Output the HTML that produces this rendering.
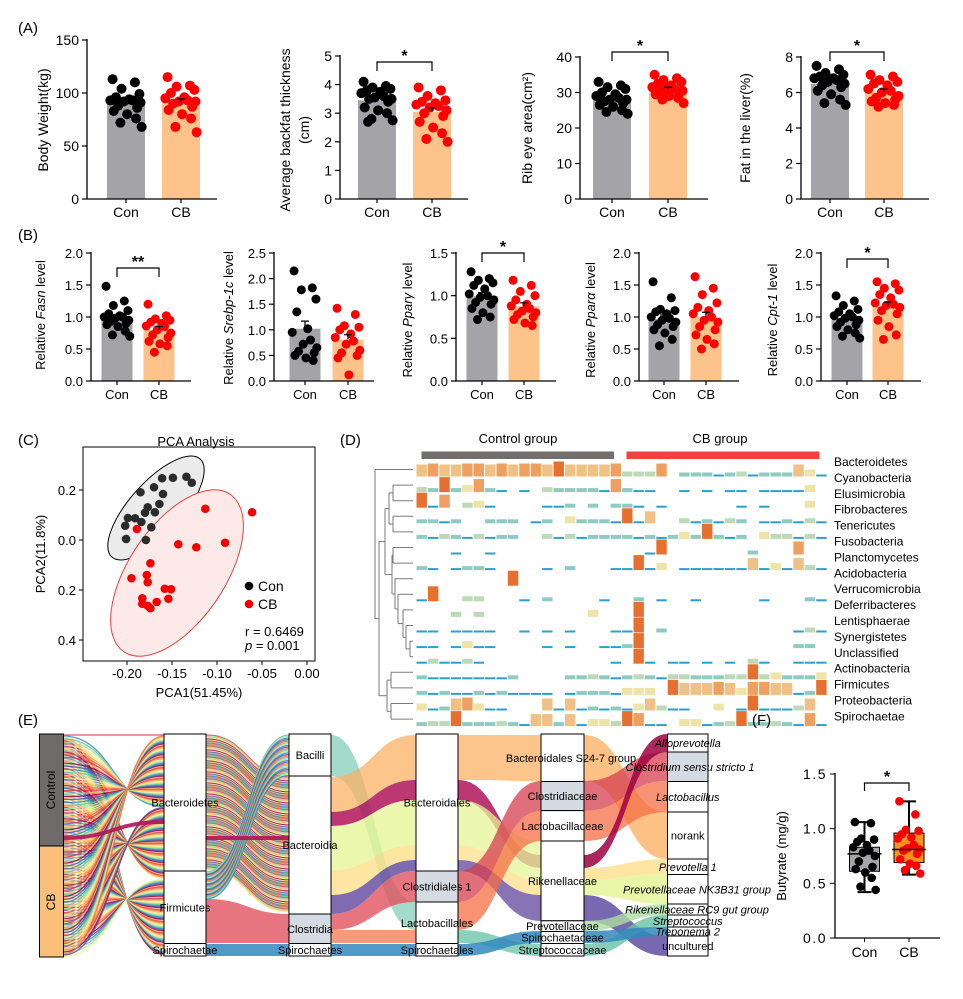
<!DOCTYPE html>
<html><head><meta charset="utf-8"><style>
body{margin:0;background:#fff}
svg{display:block;font-family:"Liberation Sans",Arial,sans-serif}
</style></head><body>
<svg id="fig" width="963" height="999" viewBox="0 0 963 999" xmlns="http://www.w3.org/2000/svg">
<g id="gA"></g>
<g id="gB"></g>
<g id="gC"></g>
<g id="gD"></g>
<g id="gE"></g>
<g id="gF"></g>
</svg>
<script>
// ---------- DATA ----------
const groups = ["Con","CB"];
const bwCon = [113,110,104,99,96,94,93,93,92,91,88,86,83,80,76,72,68];
const bwCB  = [115,107,106,103,100,96,95,93,92,92,90,87,84,80,76,68,63];
const bfCon = [4.1,3.95,3.9,3.85,3.8,3.75,3.7,3.6,3.55,3.5,3.5,3.4,3.2,3.1,3.0,2.8,2.75,2.7];
const bfCB  = [3.9,3.8,3.6,3.45,3.4,3.35,3.3,3.25,3.2,3.1,3.0,2.9,2.7,2.5,2.3,2.1,2.0];
const reCon = [33,32,31.5,31,30,29.5,29,28.5,28,28,27.5,27,26.5,26,25,24.5,24];
const reCB  = [35,34,33.5,33,32.5,32,31.5,31,31,30.5,30,30,29.5,29,28.5,28,27];
const lfCon = [7.5,7.3,7.1,7.0,6.9,6.8,6.8,6.7,6.6,6.5,6.4,6.3,6.1,5.9,5.6,5.4,5.3];
const lfCB  = [7.0,6.9,6.7,6.6,6.5,6.4,6.2,6.1,6.0,5.8,5.7,5.6,5.5,5.4,5.3,5.2];
const fasnCon = [1.48,1.25,1.18,1.1,1.05,1.02,1.0,1.0,0.98,0.95,0.93,0.9,0.88,0.85,0.78,0.72,0.7];
const fasnCB  = [1.2,1.02,0.97,0.95,0.92,0.9,0.86,0.85,0.8,0.75,0.72,0.68,0.62,0.58,0.55,0.45];
const srebCon = [2.15,1.82,1.78,1.6,1.35,1.02,0.95,0.8,0.72,0.65,0.58,0.55,0.5,0.45,0.4];
const srebCB  = [1.42,1.3,1.08,1.05,1.0,0.92,0.85,0.78,0.72,0.6,0.55,0.5,0.45,0.12];
const ppgCon  = [1.28,1.2,1.18,1.15,1.12,1.08,1.02,1.0,0.98,0.95,0.92,0.9,0.85,0.8,0.75,0.72];
const ppgCB   = [1.18,1.12,1.05,1.0,0.95,0.9,0.88,0.85,0.82,0.8,0.78,0.75,0.72,0.68,0.65];
const ppaCon  = [1.55,1.3,1.12,1.1,1.08,1.05,1.0,0.98,0.95,0.92,0.88,0.85,0.8,0.75,0.65,0.55];
const ppaCB   = [1.63,1.45,1.35,1.22,1.15,1.1,1.05,1.0,0.95,0.92,0.85,0.8,0.72,0.65,0.58,0.5];
const cptCon  = [1.33,1.25,1.18,1.12,1.08,1.05,1.02,1.0,0.98,0.95,0.92,0.88,0.85,0.8,0.75,0.7,0.67];
const cptCB   = [1.55,1.52,1.45,1.42,1.35,1.3,1.22,1.2,1.18,1.15,1.1,1.05,0.95,0.85,0.72,0.65];
const ticks2 = ["0.0","0.5","1.0","1.5","2.0"], ticks25=["0.0","0.5","1.0","1.5","2.0","2.5"], ticks15=["0.0","0.5","1.0","1.5"];
const pcaConX = [-0.185,-0.170,-0.161,-0.149,-0.134,-0.128,-0.160,-0.177,-0.180,-0.169,-0.164,-0.199,-0.191,-0.184,-0.202,-0.173,-0.201,-0.179];
const pcaConY = [0.191,0.211,0.247,0.249,0.253,0.229,0.184,0.131,0.109,0.111,0.144,0.088,0.087,0.072,0.057,0.051,0.004,0.000];
const pcaCBX  = [-0.189,-0.113,-0.061,-0.143,-0.123,-0.091,-0.174,-0.195,-0.178,-0.177,-0.158,-0.151,-0.183,-0.183,-0.177,-0.174,-0.167,-0.154];
const pcaCBY  = [0.044,0.125,0.111,-0.017,-0.029,-0.011,-0.093,-0.153,-0.14,-0.169,-0.195,-0.197,-0.233,-0.255,-0.263,-0.273,-0.248,-0.235];
const pcaXTicks = [-0.20,-0.15,-0.10,-0.05,0.00];
const pcaXLabels = ["-0.20","-0.15","-0.10","-0.05","0.00"];
const pcaYTicks = [0.2,0.0,-0.2,-0.4];
const pcaYLabels = ["0.2","0.0","0.2","0.4"];
const phyla = ["Bacteroidetes","Cyanobacteria","Elusimicrobia","Fibrobacteres","Tenericutes","Fusobacteria","Planctomycetes","Acidobacteria","Verrucomicrobia","Deferribacteres","Lentisphaerae","Synergistetes","Unclassified","Actinobacteria","Firmicutes","Proteobacteria","Spirochaetae"];
const hmBacteroidetes = [5,6,5,5,6,6,5,6,5,6,6,5,7,5,5,5,5,6,3,3,3,6,0,2,2,2,1,2,3,1,2,2,2,5,4,1];
const hmCyanobacteria = [3,2,7,2,4,6,2,1,0,1,0,3,2,2,2,2,1,6,2,1,1,0,0,1,0,1,0,1,1,0,1,1,1,1,4,0];
const hmElusimicrobia = [7,1,6,0,3,4,1,0,0,0,0,1,1,2,0,2,0,2,2,1,0,1,0,0,0,0,0,0,1,0,1,0,0,0,4,0];
const hmFibrobacteres = [2,2,1,2,0,0,2,2,2,0,1,2,0,4,2,2,2,1,7,1,5,0,0,3,1,2,1,3,2,0,1,1,2,1,3,1];
const hmTenericutes   = [2,1,3,2,1,3,1,2,2,0,0,3,1,3,1,2,2,2,2,1,2,1,2,4,2,7,2,1,2,0,4,3,3,1,3,1];
const hmFusobacteria  = [0,0,0,1,0,0,1,0,0,0,0,0,0,0,0,0,0,0,0,0,1,7,0,0,0,0,0,0,0,2,0,0,0,6,0,0];
const hmPlanctomycetes= [2,1,0,1,2,2,1,0,0,0,0,1,0,2,0,0,0,1,1,7,1,4,0,1,1,1,1,1,1,5,1,4,1,5,3,1];
const hmAcidobacteria = [0,0,0,0,0,0,0,0,7,0,0,0,0,0,0,0,0,0,0,0,0,0,0,0,0,0,0,0,0,0,0,0,0,0,0,0];
const hmVerrucomicrobia=[1,7,0,0,3,3,0,0,0,1,0,2,0,0,0,0,1,0,0,2,0,1,0,0,1,0,0,0,0,0,1,0,0,0,2,1];
const hmDeferribacteres=[0,0,0,3,0,3,0,0,0,0,0,0,0,0,0,4,0,0,0,7,0,0,0,0,0,0,0,0,0,0,0,0,0,0,0,0];
const hmLentisphaerae = [1,1,0,1,1,1,1,0,0,1,0,1,0,1,0,0,0,1,1,7,0,2,0,0,0,0,0,0,0,0,0,0,0,1,3,1];
const hmSynergistetes = [1,1,0,1,4,1,1,0,0,0,0,1,0,1,0,0,1,1,2,7,0,0,0,0,0,0,0,0,0,0,0,0,0,2,2,0];
const hmUnclassified  = [1,3,1,1,3,1,0,0,0,0,0,0,0,0,0,0,0,1,0,7,1,0,1,1,0,1,0,1,0,3,1,0,0,1,1,1];
const hmActinobacteria= [2,1,1,1,1,1,1,1,2,0,0,0,0,2,2,3,2,1,2,3,2,1,3,3,2,2,2,3,3,7,3,4,2,2,2,4];
const hmFirmicutes    = [2,1,2,1,1,2,1,2,1,1,1,1,0,1,2,2,2,1,4,4,4,0,7,5,5,5,6,5,4,6,6,5,5,1,2,7];
const hmProteobacteria= [4,1,2,5,6,4,1,1,0,0,0,5,1,5,1,2,1,2,1,4,5,3,1,1,0,0,4,0,1,7,1,1,1,3,5,0];
const hmSpirochaetae  = [2,3,3,7,2,2,2,3,2,1,5,5,2,5,1,4,4,3,7,6,1,1,0,4,4,1,2,3,7,2,2,3,2,1,6,1];
const heatRows = [hmBacteroidetes,hmCyanobacteria,hmElusimicrobia,hmFibrobacteres,hmTenericutes,hmFusobacteria,hmPlanctomycetes,hmAcidobacteria,hmVerrucomicrobia,hmDeferribacteres,hmLentisphaerae,hmSynergistetes,hmUnclassified,hmActinobacteria,hmFirmicutes,hmProteobacteria,hmSpirochaetae];
const butCon = [1.06,1.05,0.91,0.90,0.88,0.85,0.83,0.80,0.78,0.75,0.70,0.65,0.63,0.60,0.55,0.47,0.44];
const butCB  = [1.25,1.13,0.99,0.98,0.95,0.92,0.91,0.85,0.82,0.81,0.80,0.77,0.72,0.68,0.66,0.62,0.59];
const butBoxCon = [0.42,0.61,0.77,0.83,1.06];
const butBoxCB  = [0.58,0.69,0.81,0.96,1.25];
const butTicks = ["0.0","0.5","1.0","1.5"];

// ---------- helpers ----------
const NS="http://www.w3.org/2000/svg";
function el(parent,tag,attrs,text){const e=document.createElementNS(NS,tag);for(const k in attrs)e.setAttribute(k,attrs[k]);if(text!==undefined)e.textContent=text;parent.appendChild(e);return e;}
const jit=[-12,8,-4,12,-9,3,-14,6,-2,13,-7,10,-11,1,9,-5,14,-8];
function mean(a){return a.reduce((s,v)=>s+v,0)/a.length;}
function sem(a){const m=mean(a);return Math.sqrt(a.reduce((s,v)=>s+(v-m)*(v-m),0)/(a.length-1))/Math.sqrt(a.length);}

function barChart(g,o){
  const sc=v=>o.bottom-(v-o.min)/(o.max-o.min)*(o.bottom-o.top);
  const sets=[o.con,o.cb], xs=[o.conX,o.cbX], fills=["#a4a4a8","#fdc38a"], dots=["#000","#ff0000"];
  for(let i=0;i<2;i++){
    const m=mean(sets[i]);
    const b=el(g,"rect",{x:xs[i]-o.bw/2,y:sc(m),width:o.bw,height:o.bottom-sc(m),fill:fills[i]});
    
    
    sets[i].forEach((v,j)=>{
      const c=el(g,"circle",{cx:xs[i]+jit[j%jit.length]*o.bw/34,cy:sc(v),r:o.r,fill:dots[i]});
      
      
    });
    const s=sem(sets[i]);
    el(g,"path",{d:`M${xs[i]} ${sc(m+s)}V${sc(m)}M${xs[i]-4} ${sc(m+s)}H${xs[i]+4}`,stroke:"#000","stroke-width":1.2,fill:"none"});
  }
  el(g,"path",{d:`M${o.ax} ${o.top-1}V${o.bottom}H${o.ax+o.xw}`,stroke:"#000","stroke-width":1.3,fill:"none"});
  o.ticks.forEach((t,k)=>{
    const v=parseFloat(t), y=sc(v);
    el(g,"line",{x1:o.ax-5,x2:o.ax,y1:y,y2:y,stroke:"#000","stroke-width":1.2});
    const tl=el(g,"text",{x:o.ax-8,y:y+5,"text-anchor":"end","font-size":o.fs},t);
    
    
  });
  for(let i=0;i<2;i++){
    el(g,"line",{x1:xs[i],x2:xs[i],y1:o.bottom,y2:o.bottom+4,stroke:"#000","stroke-width":1.2});
    const tl=el(g,"text",{x:xs[i],y:o.bottom+18,"text-anchor":"middle","font-size":o.fs},groups[i]);
    
    
  }
  if(o.sig){
    el(g,"path",{d:`M${o.conX} ${o.sigY+9}V${o.sigY}H${o.cbX}V${o.sigY+9}`,stroke:"#000","stroke-width":1.2,fill:"none"});
    const st=el(g,"text",{x:(o.conX+o.cbX)/2,y:o.sigY-1,"text-anchor":"middle","font-size":16,"font-weight":"bold"},o.sig);
    
    
  }
  const lab=el(g,"text",{transform:`translate(${o.lx},${o.ly}) rotate(-90)`,"text-anchor":"middle","font-size":o.lfs});
  
  
  o.label.forEach(p=>{const ts=el(lab,"tspan",p.it?{"font-style":"italic"}:{},p.t); if(p.dy){ts.setAttribute('x',0);ts.setAttribute('dy',p.dy);}});
}
function panelLabel(g,x,y,t){const e=el(g,"text",{x:x,y:y,"font-size":15},t);}

// ---------- Panel A ----------
const gA=document.getElementById("gA");
panelLabel(gA,18,33,"(A)");
barChart(gA,{id:"body-weight",ax:87,top:40,bottom:199,min:0,max:150,ticks:["0","50","100","150"],conX:126,cbX:181,bw:38,r:5,xw:130,con:bwCon,cb:bwCB,fs:14,lx:48,ly:120,lfs:14,label:[{t:"Body Weight(kg)"}]});
barChart(gA,{id:"backfat",ax:340,top:56,bottom:199,min:0,max:5,ticks:["0","1","2","3","4","5"],conX:377,cbX:432,bw:38,r:5,xw:128,con:bfCon,cb:bfCB,fs:14,lx:290,ly:130,lfs:14,sig:"*",sigY:62,label:[{t:"Average backfat thickness"},{t:"(cm)",dy:19}]});
barChart(gA,{id:"rib-eye",ax:580,top:57,bottom:199,min:0,max:40,ticks:["0","10","20","30","40"],conX:612,cbX:668,bw:38,r:5,xw:128,con:reCon,cb:reCB,fs:14,lx:532,ly:128,lfs:14,sig:"*",sigY:52,label:[{t:"Rib eye area(cm²)"}]});
barChart(gA,{id:"liver-fat",ax:801,top:57,bottom:199,min:0,max:8,ticks:["0","2","4","6","8"],conX:830,cbX:884,bw:38,r:5,xw:128,con:lfCon,cb:lfCB,fs:14,lx:750,ly:128,lfs:14,sig:"*",sigY:52,label:[{t:"Fat in the liver(%)"}]});

// ---------- Panel B ----------
const gB=document.getElementById("gB");
panelLabel(gB,18,240,"(B)");
barChart(gB,{id:"fasn",ax:91,top:253,bottom:381,min:0,max:2,ticks:ticks2,conX:117,cbX:159,bw:31,r:4.5,xw:100,con:fasnCon,cb:fasnCB,fs:13,lx:45,ly:315,lfs:13,sig:"**",sigY:268,label:[{t:"Relative "},{t:"Fasn",it:1},{t:" level"}]});
barChart(gB,{id:"srebp",ax:274,top:253,bottom:381,min:0,max:2.5,ticks:ticks25,conX:305,cbX:348,bw:31,r:4.5,xw:100,con:srebCon,cb:srebCB,fs:13,lx:233,ly:318,lfs:13,label:[{t:"Relative "},{t:"Srebp-1c",it:1},{t:" level"}]});
barChart(gB,{id:"ppar-gamma",ax:456,top:253,bottom:381,min:0,max:1.5,ticks:ticks15,conX:482,cbX:524,bw:31,r:4.5,xw:100,con:ppgCon,cb:ppgCB,fs:13,lx:412,ly:320,lfs:13,sig:"*",sigY:253,label:[{t:"Relative "},{t:"Pparγ",it:1},{t:" level"}]});
barChart(gB,{id:"ppar-alpha",ax:639,top:253,bottom:381,min:0,max:2,ticks:ticks2,conX:664,cbX:706,bw:31,r:4.5,xw:100,con:ppaCon,cb:ppaCB,fs:13,lx:595,ly:320,lfs:13,label:[{t:"Relative "},{t:"Pparα",it:1},{t:" level"}]});
barChart(gB,{id:"cpt1",ax:821,top:253,bottom:381,min:0,max:2,ticks:ticks2,conX:847,cbX:888,bw:31,r:4.5,xw:100,con:cptCon,cb:cptCB,fs:13,lx:777,ly:320,lfs:13,sig:"*",sigY:259,label:[{t:"Relative "},{t:"Cpt-1",it:1},{t:" level"}]});

// ---------- Panel C ----------
const gC=document.getElementById("gC");
panelLabel(gC,18,445,"(C)");
(function(){
  const X=v=>127+(v+0.20)*900, Y=v=>540-v*250;
  el(gC,"text",{x:196,y:446,"text-anchor":"middle","font-size":13},"PCA Analysis");
  el(gC,"ellipse",{cx:156,cy:508,rx:66,ry:26,transform:"rotate(-48 156 508)",fill:"#ebebeb",stroke:"#000","stroke-width":1});
  el(gC,"ellipse",{cx:177,cy:573,rx:95,ry:48,transform:"rotate(-56 177 573)",fill:"#fde9e7",stroke:"#e8423a","stroke-width":1});
  pcaConX.forEach((x,i)=>{const c=el(gC,"circle",{cx:X(x),cy:Y(pcaConY[i]),r:4.3,fill:"#2b2b2b"});});
  pcaCBX.forEach((x,i)=>{const c=el(gC,"circle",{cx:X(x),cy:Y(pcaCBY[i]),r:4.3,fill:"#f20000"});});
  el(gC,"rect",{x:83,y:447,width:232,height:214,fill:"none",stroke:"#000","stroke-width":1});
  pcaXTicks.forEach((t,i)=>{el(gC,"line",{x1:X(t),x2:X(t),y1:661,y2:665,stroke:"#000"});el(gC,"text",{x:X(t),y:678,"text-anchor":"middle","font-size":13},pcaXLabels[i]);});
  pcaYTicks.forEach((t,i)=>{el(gC,"line",{x1:79,x2:83,y1:Y(t),y2:Y(t),stroke:"#000"});el(gC,"text",{x:76,y:Y(t)+5,"text-anchor":"end","font-size":13},pcaYLabels[i]);});
  el(gC,"text",{x:199,y:697,"text-anchor":"middle","font-size":13},"PCA1(51.45%)");
  el(gC,"text",{transform:"translate(45,554) rotate(-90)","text-anchor":"middle","font-size":13},"PCA2(11.8%)");
  const l1=el(gC,"circle",{cx:249,cy:586,r:4.3,fill:"#000"});
  el(gC,"text",{x:258,y:591,"font-size":14},"Con");
  const l2=el(gC,"circle",{cx:249,cy:604,r:4.3,fill:"#f20000"});
  el(gC,"text",{x:258,y:609,"font-size":14},"CB");
  el(gC,"text",{x:245,y:636,"font-size":13},"r = 0.6469");
  const t=el(gC,"text",{x:245,y:650,"font-size":13});el(t,"tspan",{"font-style":"italic"},"p");el(t,"tspan",{},"  = 0.001");
})();

// ---------- Panel D ----------
const gD=document.getElementById("gD");
panelLabel(gD,340,445,"(D)");
(function(){
  const colW=11.42, x0=416, rowB=476.5, rowH=15.6;
  const hH=[0,2,4,5,7,12,13,15], hC=["","#2ba0cc","#8fcbc0","#bcdab8","#eee4a8","#efc185","#eda060","#e8702f"];
  el(gD,"rect",{x:421.5,y:451.5,width:192.5,height:7.5,fill:"#726e6d"});
  el(gD,"rect",{x:626.5,y:451.5,width:193,height:7.5,fill:"#f24141"});
  el(gD,"text",{x:518,y:443,"text-anchor":"middle","font-size":13},"Control group");
  el(gD,"text",{x:720,y:443,"text-anchor":"middle","font-size":13},"CB group");
  heatRows.forEach((row,r)=>{
    row.forEach((v,c)=>{
      if(!v)return;
      const h=hH[v];
      const cell=el(gD,"rect",{x:x0+c*colW+0.5,y:rowB+r*rowH-h,width:colW-1,height:h,fill:hC[v]});
      
      
    });
    const lab=el(gD,"text",{x:834,y:466+r*15.9,"font-size":12},phyla[r]);
    
    
  });
  const ly=i=>rowB+i*rowH-7;
  function N(x,...c){return {x:x,c:c};}
  const tree=N(375,0,N(379,N(385,N(389,N(393,1,2),N(393,3,4)),N(392,N(393,5,6),N(395,7,N(398,8,N(403,9,N(406,10,N(410,11,12))))))),N(387,N(391,13,14),N(391,15,16))));
  function draw(n){
    if(typeof n==="number"){return {x:413,y:ly(n)};}
    const ch=n.c.map(draw);
    ch.forEach(c=>el(gD,"line",{x1:n.x,x2:c.x,y1:c.y,y2:c.y,stroke:"#7a7a7a","stroke-width":1}));
    el(gD,"line",{x1:n.x,x2:n.x,y1:ch[0].y,y2:ch[ch.length-1].y,stroke:"#7a7a7a","stroke-width":1});
    return {x:n.x,y:(ch[0].y+ch[ch.length-1].y)/2};
  }
  draw(tree);
})();

// ---------- Panel E ----------
const gE=document.getElementById("gE");
panelLabel(gE,18,725,"(E)");
(function(){
  const pal=["#d53e4f","#f46d43","#fdae61","#fee08b","#e6f598","#abdda4","#66c2a5","#3288bd","#5e4fa2","#9e0142","#f7b37a"];
  function band(x1,a0,a1,x2,b0,b1,col,op){
    const m=(x1+x2)/2;
    el(gE,"path",{d:`M${x1} ${a0}C${m} ${a0} ${m} ${b0} ${x2} ${b0}L${x2} ${b1}C${m} ${b1} ${m} ${a1} ${x1} ${a1}Z`,fill:col,"fill-opacity":op});
  }
  function line(x1,a,x2,b,col,w){const m=(x1+x2)/2;el(gE,"path",{d:`M${x1} ${a}C${m} ${a} ${m} ${b} ${x2} ${b}`,stroke:col,"stroke-width":w||1.3,fill:"none","stroke-opacity":0.85});}
  // group -> phylum lines
  for(let i=0;i<220;i++){
    const a=735+i*1.01; let b;
    const k=(i*73)%220;
    if(k<140) b=735+k*0.98; else if(k<208) b=872+(k-140)*1.05; else b=944+(k-208)*1;
    line(63,a,164,b,pal[(i*7)%11],1.3);
  }
  band(63,836,840,164,820,824,"#b0155a",0.9);
  // phylum -> class
  for(let i=0;i<136;i++){line(206,735+i,289,777+i,pal[(i*5)%11],1.3);}
  for(let i=0;i<28;i++){line(206,872+i,289,735+i*1.5,["#66c2a5","#abdda4","#3288bd","#5e4fa2","#f46d43"][i%5],1.3);}
  band(206,899,943,289,914,943,"#e0535f",0.8);
  band(206,944,956,289,944,956,"#3288bd",0.85);
  band(206,836,840,289,836,840,"#b0155a",0.9);
  // class -> order
  band(331,735,776,416,902,930,"#66c2a5",0.6);
  band(331,777,812,416,735,780,"#fbb266",0.75);
  band(331,812,826,416,780,800,"#b0155a",0.85);
  band(331,826,870,416,800,845,"#e6f598",0.8);
  band(331,870,895,416,845,860,"#fee08b",0.8);
  band(331,895,914,416,860,871,"#6a51a3",0.85);
  band(331,914,930,416,871,902,"#e0535f",0.8);
  band(331,930,943,416,930,943,"#f46d43",0.7);
  band(331,944,956,416,944,956,"#3288bd",0.85);
  // order -> family
  band(458,735,780,541,735,781,"#fbb266",0.75);
  band(458,780,800,541,855,868,"#b0155a",0.85);
  band(458,800,845,541,841,880,"#e6f598",0.75);
  band(458,845,860,541,880,895,"#fee08b",0.75);
  band(458,860,871,541,895,921,"#6a51a3",0.8);
  band(458,871,902,541,781,811,"#d53e4f",0.75);
  band(458,902,930,541,811,841,"#f46d43",0.75);
  band(458,930,943,541,944,956,"#66c2a5",0.75);
  band(458,944,956,541,931,943,"#3288bd",0.85);
  // family -> genus
  band(584,735,781,667,812,859,"#fbb266",0.8);
  band(584,781,811,667,752,781,"#d53e4f",0.75);
  band(584,811,841,667,781,812,"#f46d43",0.75);
  band(584,855,868,667,734,752,"#9e0142",0.85);
  band(584,868,880,667,859,874,"#fee08b",0.8);
  band(584,880,895,667,874,904,"#e6f598",0.85);
  band(584,895,921,667,936,956,"#5e4fa2",0.85);
  band(584,921,931,667,904,915,"#abdda4",0.8);
  band(584,944,956,667,915,927,"#66c2a5",0.8);
  band(584,931,943,667,927,936,"#3288bd",0.85);
  function node(x,y0,y1,w,txt,fill,italic,tx){
    const r=el(gE,"rect",{x:x,y:y0,width:w,height:y1-y0,fill:fill,stroke:"#000","stroke-width":1});
    
    
    if(txt){const t=el(gE,"text",{x:tx!==undefined?tx:x+w/2,y:(y0+y1)/2+4,"text-anchor":"middle","font-size":11},txt); if(italic)t.setAttribute("font-style","italic");}
  }
  const g1=el(gE,"rect",{x:39.5,y:734,width:24,height:112,fill:"#6f6b6a",stroke:"#000"});
  
  const g2=el(gE,"rect",{x:39.5,y:846,width:24,height:111,fill:"#fbbf7c",stroke:"#000"});
  
  el(gE,"text",{transform:"translate(55,790) rotate(-90)","text-anchor":"middle","font-size":12},"Control");
  el(gE,"text",{transform:"translate(55,902) rotate(-90)","text-anchor":"middle","font-size":12},"CB");
  node(164,734,871,42,"Bacteroidetes","#fff");
  node(164,871,943.5,42,"Firmicutes","#fff");
  node(164,943.5,956,42,"Spirochaetae","#fff");
  node(289,734,776,42,"Bacilli","#fff");
  node(289,776,914,42,"Bacteroidia","#fff");
  node(289,914,943.5,42,"Clostridia","#d5dbe3");
  node(289,943.5,956,42,"Spirochaetes","#fff");
  node(416,734,871,42,"Bacteroidales","#fff");
  node(416,871,902,42,"Clostridiales  1","#d5dbe3");
  node(416,902,943.5,42,"Lactobacillales","#fff");
  node(416,943.5,956,42,"Spirochaetales","#fff");
  node(541,734,781.5,43,"Bacteroidales S24-7 group","#fff",0,571);
  node(541,781.5,810.6,43,"Clostridiaceae","#d5dbe3");
  node(541,810.6,841,43,"Lactobacillaceae","#fff");
  node(541,841,920.8,43,"Rikenellaceae","#fff");
  node(541,920.8,931.5,43,"Prevotellaceae","#fff");
  node(541,931.5,943.5,43,"Spirochaetaceae","#fff");
  node(541,943.5,956,43,"Streptococcaceae","#fff");
  node(667.5,734,752,40.5,"Alloprevotella","#fff",1);
  node(667.5,752,781.5,40.5,"Clostridium  sensu stricto  1","#d5dbe3",1,690);
  node(667.5,781.5,812,40.5,"Lactobacillus","#fff",1);
  node(667.5,812,859,40.5,"norank","#fff");
  node(667.5,859,874.5,40.5,"Prevotella 1","#fff",1);
  node(667.5,874.5,904,40.5,"Prevotellaceae NK3B31 group","#fff",1,697);
  node(667.5,904,915,40.5,"Rikenellaceae RC9 gut group","#fff",1,697);
  node(667.5,915,927,40.5,"Streptococcus","#fff",1);
  node(667.5,927,936,40.5,"Treponema 2","#fff",1);
  node(667.5,936,956,40.5,"uncultured","#fff");
})();

// ---------- Panel F ----------
const gF=document.getElementById("gF");
panelLabel(gF,752,725,"(F)");
(function(){
  const Y=v=>938-v/1.5*164;
  const cx=[864.5,909], boxes=[butBoxCon,butBoxCB], fills=["#a6a6a8","#f7931e"], pts=[butCon,butCB], dc=["#000","#ff0000"];
  for(let i=0;i<2;i++){
    const b=boxes[i];
    el(gF,"path",{d:`M${cx[i]} ${Y(b[0])}V${Y(b[4])}M${cx[i]-7} ${Y(b[0])}H${cx[i]+7}M${cx[i]-7} ${Y(b[4])}H${cx[i]+7}`,stroke:"#000","stroke-width":2,fill:"none"});
    const r=el(gF,"rect",{x:cx[i]-15,y:Y(b[3]),width:30,height:Y(b[1])-Y(b[3]),fill:fills[i],stroke:"#000","stroke-width":1});
    
    
    pts[i].forEach((v,j)=>{const c=el(gF,"circle",{cx:cx[i]+jit[j]*0.8,cy:Y(v),r:4.3,fill:dc[i]});});
    el(gF,"line",{x1:cx[i]-17,x2:cx[i]+17,y1:Y(b[2]),y2:Y(b[2]),stroke:"#000","stroke-width":1.5});
  }
  el(gF,"path",{d:"M835 773V938H940",stroke:"#000","stroke-width":1.3,fill:"none"});
  butTicks.forEach(t=>{const y=Y(parseFloat(t));el(gF,"line",{x1:830,x2:835,y1:y,y2:y,stroke:"#000"});el(gF,"text",{x:827,y:y+5,"text-anchor":"end","font-size":14,"letter-spacing":"1.5"},t);});
  for(let i=0;i<2;i++){el(gF,"line",{x1:cx[i],x2:cx[i],y1:938,y2:942,stroke:"#000"});el(gF,"text",{x:cx[i],y:957,"text-anchor":"middle","font-size":14},groups[i]);}
  el(gF,"path",{d:`M${cx[0]} 791V783H${cx[1]}V791`,stroke:"#000","stroke-width":1.2,fill:"none"});
  el(gF,"text",{x:887,y:782,"text-anchor":"middle","font-size":16,"font-weight":"bold"},"*");
  el(gF,"text",{transform:"translate(786,856) rotate(-90)","text-anchor":"middle","font-size":13},"Butyrate (mg/g)");
})();
</script>
</body></html>
